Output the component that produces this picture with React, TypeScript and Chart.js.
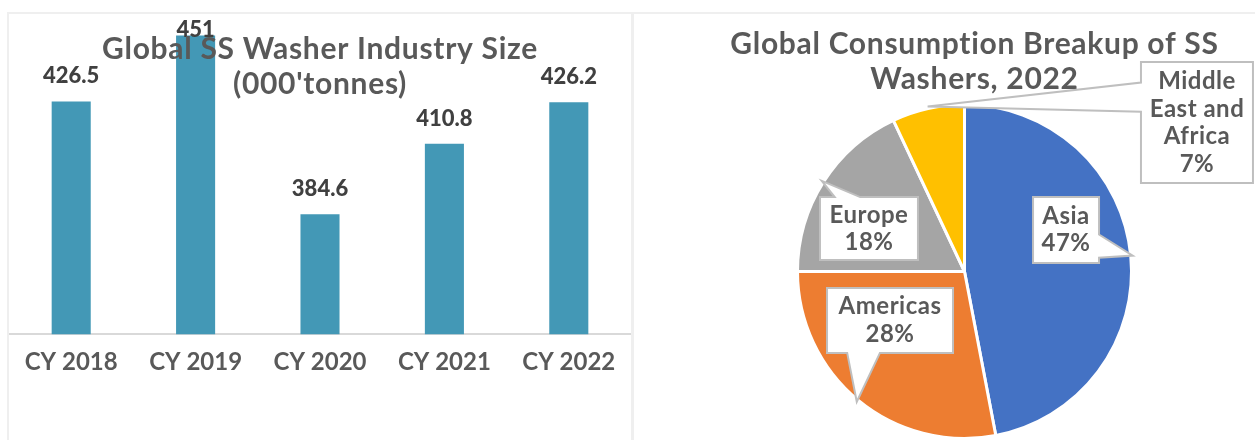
import React, { useEffect, useRef } from 'react';
import { Chart, registerables } from 'chart.js';

Chart.register(...registerables);

// ---------- data ----------
const years = ['CY 2018', 'CY 2019', 'CY 2020', 'CY 2021', 'CY 2022'];
const industrySize = [426.5, 451, 384.6, 410.8, 426.2];
const barTitleLines = ['Global SS Washer Industry Size', "(000'tonnes)"];

const regions = ['Asia', 'Americas', 'Europe', 'Middle East and Africa'];
const regionLabelLines = [['Asia'], ['Americas'], ['Europe'], ['Middle', 'East and', 'Africa']];
const regionShares = [47, 28, 18, 7];
const pieTitleLines = ['Global Consumption Breakup of SS', 'Washers, 2022'];

// ---------- styles ----------
const FONT = 'Lato, "Open Sans", sans-serif';
const BAR_COLOR = '#4398b6';
const PIE_COLORS = ['#4472C4', '#ED7D31', '#A5A5A5', '#FFC000'];
const TITLE_COLOR = '#595959';
const LABEL_COLOR = '#404040';

// callout layout: box centre offset in pie radii, box size, pointer side and base span (fractions of that edge)
const calloutLayout = [
  { dx: 0.608, dy: -0.249, w: 66, h: 66, side: 'right', a: 0.57, b: 0.92 },
  { dx: -0.446, dy: 0.293, w: 126, h: 65, side: 'bottom', a: 0.16, b: 0.42 },
  { dx: -0.572, dy: -0.257, w: 98, h: 63, side: 'top', a: 0.15, b: 0.41 },
  { dx: 1.392, dy: -0.892, w: 112, h: 121, side: 'left', a: 0.17, b: 0.41 },
];

const barOverlay = {
  id: 'barOverlay',
  afterDatasetsDraw(chart: any) {
    const ctx = chart.ctx;
    const meta = chart.getDatasetMeta(0);
    ctx.save();
    ctx.textAlign = 'center';
    ctx.textBaseline = 'alphabetic';
    ctx.font = `900 22px ${FONT}`;
    ctx.fillStyle = LABEL_COLOR;
    meta.data.forEach((bar: any, i: number) => {
      const y = Math.max(bar.y - 18, chart.chartArea.top + 23);
      ctx.fillText(String(industrySize[i]), bar.x, y);
    });
    ctx.font = `bold 30px ${FONT}`;
    (ctx as any).letterSpacing = '0.7px';
    ctx.fillStyle = TITLE_COLOR;
    ctx.textBaseline = 'middle';
    const cx = (chart.chartArea.left + chart.chartArea.right) / 2;
    barTitleLines.forEach((t, i) => ctx.fillText(t, cx, 35 + i * 35));
    ctx.restore();
  },
};

function calloutPath(ctx: any, x: number, y: number, w: number, h: number, side: string, a: number, b: number, tx: number, ty: number) {
  ctx.beginPath();
  ctx.moveTo(x, y);
  if (side === 'top') {
    ctx.lineTo(x + a * w, y);
    ctx.lineTo(tx, ty);
    ctx.lineTo(x + b * w, y);
  }
  ctx.lineTo(x + w, y);
  if (side === 'right') {
    ctx.lineTo(x + w, y + a * h);
    ctx.lineTo(tx, ty);
    ctx.lineTo(x + w, y + b * h);
  }
  ctx.lineTo(x + w, y + h);
  if (side === 'bottom') {
    ctx.lineTo(x + b * w, y + h);
    ctx.lineTo(tx, ty);
    ctx.lineTo(x + a * w, y + h);
  }
  ctx.lineTo(x, y + h);
  if (side === 'left') {
    ctx.lineTo(x, y + b * h);
    ctx.lineTo(tx, ty);
    ctx.lineTo(x, y + a * h);
  }
  ctx.closePath();
}

const pieOverlay = {
  id: 'pieOverlay',
  afterDatasetsDraw(chart: any) {
    const ctx = chart.ctx;
    const meta = chart.getDatasetMeta(0);
    const total = regionShares.reduce((s, v) => s + v, 0);
    ctx.save();
    // title
    ctx.font = `bold 30px ${FONT}`;
    (ctx as any).letterSpacing = '0.7px';
    ctx.fillStyle = TITLE_COLOR;
    ctx.textAlign = 'center';
    ctx.textBaseline = 'middle';
    const tcx = (chart.chartArea.left + chart.chartArea.right) / 2 + 10;
    pieTitleLines.forEach((t, i) => ctx.fillText(t, tcx, 30 + i * 35));

    meta.data.forEach((arc: any, i: number) => {
      const p = arc.getProps(['x', 'y', 'startAngle', 'endAngle', 'outerRadius'], true);
      const mid = (p.startAngle + p.endAngle) / 2;
      const r = p.outerRadius;
      const tx = p.x + Math.cos(mid) * (r + 2);
      const ty = p.y + Math.sin(mid) * (r + 2);
      const L = calloutLayout[i];
      const bx = p.x + L.dx * r - L.w / 2;
      const by = p.y + L.dy * r - L.h / 2;
      calloutPath(ctx, bx, by, L.w, L.h, L.side, L.a, L.b, tx, ty);
      ctx.fillStyle = '#ffffff';
      ctx.fill();
      ctx.lineWidth = 2;
      ctx.strokeStyle = '#bfbfbf';
      ctx.stroke();
      const lines = [...regionLabelLines[i], `${Math.round((regionShares[i] / total) * 100)}%`];
      const lh = 27.5;
      const cy = by + L.h / 2;
      ctx.font = `bold 24px ${FONT}`;
      (ctx as any).letterSpacing = '0.5px';
      ctx.fillStyle = TITLE_COLOR;
      lines.forEach((t, k) => {
        ctx.fillText(t, bx + L.w / 2, cy + (k - (lines.length - 1) / 2) * lh);
      });
    });
    ctx.restore();
  },
};

export default function App() {
  const barRef = useRef<HTMLCanvasElement>(null);
  const pieRef = useRef<HTMLCanvasElement>(null);

  useEffect(() => {
    let cancelled = false;
    let barChart: Chart | null = null;
    let pieChart: Chart | null = null;
    const fontsReady = (document as any).fonts
      ? Promise.all([
          (document as any).fonts.load(`bold 28px Lato`),
          (document as any).fonts.load(`900 22px Lato`),
        ]).catch(() => null)
      : Promise.resolve(null);
    fontsReady.then(() => {
      if (cancelled || !barRef.current || !pieRef.current) return;
      barChart = new Chart(barRef.current, {
        type: 'bar',
        data: {
          labels: years,
          datasets: [
            {
              data: industrySize,
              backgroundColor: BAR_COLOR,
              barPercentage: 0.314,
              categoryPercentage: 1,
            },
          ],
        },
        options: {
          animation: false,
          responsive: false,
          maintainAspectRatio: false,
          layout: { padding: { top: 0, left: 0, right: 0, bottom: 49 } },
          plugins: { legend: { display: false }, title: { display: false }, tooltip: { enabled: false } },
          scales: {
            x: {
              grid: { display: false, drawTicks: false },
              border: { display: true, color: '#d9d9d9', width: 2 },
              ticks: { font: { size: 24, weight: 'bold', family: FONT }, color: TITLE_COLOR, padding: 14 },
            },
            y: { display: false, min: 340, max: 459 },
          },
        },
        plugins: [barOverlay],
      } as any);

      pieChart = new Chart(pieRef.current, {
        type: 'pie',
        data: {
          labels: regions,
          datasets: [
            {
              data: regionShares,
              backgroundColor: PIE_COLORS,
              borderColor: '#ffffff',
              borderWidth: 3,
            },
          ],
        },
        options: {
          animation: false,
          responsive: false,
          maintainAspectRatio: false,
          layout: { padding: { left: 40, top: 89, right: 0, bottom: 0 } },
          plugins: { legend: { display: false }, tooltip: { enabled: false } },
        },
        plugins: [pieOverlay],
      } as any);
    });
    return () => {
      cancelled = true;
      barChart?.destroy();
      pieChart?.destroy();
    };
  }, []);

  return (
    <div style={{ position: 'fixed', inset: 0, overflow: 'hidden', background: '#fff' }}>
      <div
        style={{
          position: 'absolute',
          left: 7,
          top: 12,
          width: 626,
          height: 440,
          border: '2px solid #efefef',
          boxSizing: 'border-box',
        }}
      >
        <canvas ref={barRef} width={622} height={426} style={{ display: 'block', width: 622, height: 426 }} />
      </div>
      <div
        style={{
          position: 'absolute',
          left: 632,
          top: 12,
          width: 640,
          height: 440,
          border: '2px solid #efefef',
          boxSizing: 'border-box',
        }}
      >
        <canvas ref={pieRef} width={621} height={426} style={{ display: 'block', width: 621, height: 426 }} />
      </div>
    </div>
  );
}
